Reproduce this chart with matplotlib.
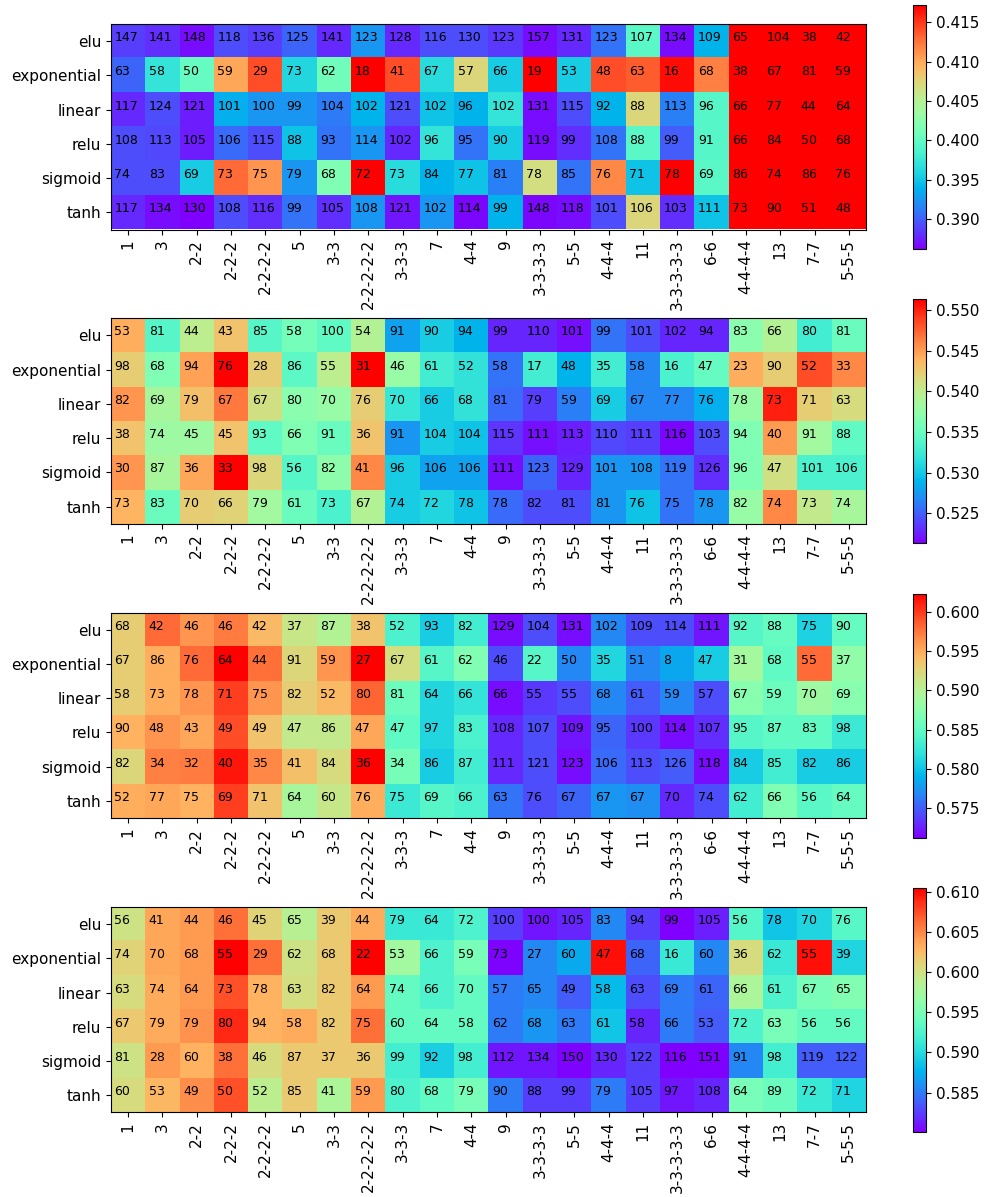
import numpy as np
import matplotlib
matplotlib.use("Agg")
import matplotlib.pyplot as plt

# 軸ラベル
activations = ["elu", "exponential", "linear", "relu", "sigmoid", "tanh"]
layers = ["1", "3", "2-2", "2-2-2", "2-2-2-2", "5", "3-3", "2-2-2-2-2", "3-3-3", "7",
          "4-4", "9", "3-3-3-3", "5-5", "4-4-4", "11", "3-3-3-3-3", "6-6", "4-4-4-4",
          "13", "7-7", "5-5-5"]

# 色の値 (スコア)
score1 = [
    [0.3887, 0.3881, 0.3868, 0.3893, 0.3887, 0.3902, 0.3878, 0.3924, 0.3878, 0.3893, 0.3893, 0.3884, 0.3868, 0.3878, 0.3909, 0.3995, 0.3868, 0.3940, 0.4172, 0.4172, 0.4172, 0.4172],
    [0.3902, 0.3971, 0.4002, 0.4101, 0.4141, 0.3961, 0.4008, 0.4172, 0.4141, 0.3964, 0.4073, 0.3955, 0.4172, 0.3955, 0.4141, 0.4135, 0.4166, 0.4119, 0.4172, 0.4172, 0.4172, 0.4172],
    [0.3878, 0.3893, 0.3874, 0.3936, 0.3924, 0.3924, 0.3912, 0.3940, 0.3893, 0.3949, 0.3940, 0.3971, 0.3868, 0.3893, 0.3940, 0.4073, 0.3915, 0.3992, 0.4172, 0.4172, 0.4172, 0.4172],
    [0.3893, 0.3890, 0.3874, 0.3905, 0.3893, 0.3949, 0.3909, 0.3924, 0.3878, 0.3971, 0.3909, 0.3955, 0.3868, 0.3881, 0.3909, 0.3995, 0.3899, 0.3992, 0.4172, 0.4172, 0.4172, 0.4172],
    [0.3893, 0.3893, 0.3955, 0.4129, 0.4110, 0.3924, 0.4017, 0.4172, 0.3964, 0.3940, 0.3949, 0.3915, 0.4067, 0.3909, 0.4116, 0.3949, 0.4172, 0.3995, 0.4172, 0.4172, 0.4172, 0.4172],
    [0.3878, 0.3868, 0.3862, 0.3893, 0.3881, 0.3909, 0.3881, 0.3924, 0.3871, 0.3924, 0.3865, 0.3940, 0.3865, 0.3868, 0.3893, 0.4073, 0.3881, 0.3949, 0.4172, 0.4172, 0.4172, 0.4172],
]
score2 = [
    [0.5441, 0.5339, 0.5399, 0.5429, 0.5339, 0.5357, 0.5345, 0.5393, 0.5279, 0.5303, 0.5288, 0.5228, 0.5228, 0.5219, 0.5258, 0.5243, 0.5228, 0.5228, 0.5369, 0.5393, 0.5327, 0.5351],
    [0.5423, 0.5363, 0.5447, 0.5513, 0.5423, 0.5342, 0.5399, 0.5513, 0.5378, 0.5327, 0.5318, 0.5258, 0.5327, 0.5288, 0.5327, 0.5267, 0.5333, 0.5348, 0.5441, 0.5423, 0.5483, 0.5459],
    [0.5453, 0.5387, 0.5432, 0.5465, 0.5411, 0.5369, 0.5378, 0.5423, 0.5321, 0.5303, 0.5318, 0.5255, 0.5237, 0.5264, 0.5303, 0.5267, 0.5267, 0.5285, 0.5378, 0.5501, 0.5423, 0.5414],
    [0.5429, 0.5381, 0.5381, 0.5429, 0.5345, 0.5363, 0.5351, 0.5429, 0.5273, 0.5303, 0.5297, 0.5234, 0.5219, 0.5225, 0.5240, 0.5237, 0.5216, 0.5243, 0.5363, 0.5450, 0.5384, 0.5345],
    [0.5453, 0.5387, 0.5444, 0.5513, 0.5417, 0.5339, 0.5372, 0.5459, 0.5303, 0.5279, 0.5279, 0.5219, 0.5252, 0.5228, 0.5273, 0.5273, 0.5258, 0.5231, 0.5363, 0.5411, 0.5333, 0.5333],
    [0.5438, 0.5351, 0.5423, 0.5420, 0.5384, 0.5351, 0.5333, 0.5393, 0.5303, 0.5309, 0.5297, 0.5255, 0.5243, 0.5243, 0.5273, 0.5297, 0.5258, 0.5273, 0.5378, 0.5459, 0.5402, 0.5387],
]
score3 = [
    [0.5930, 0.5980, 0.5961, 0.5973, 0.5942, 0.5911, 0.5899, 0.5936, 0.5837, 0.5806, 0.5831, 0.5719, 0.5744, 0.5719, 0.5769, 0.5744, 0.5744, 0.5722, 0.5843, 0.5853, 0.5809, 0.5853],
    [0.5930, 0.5949, 0.5980, 0.6023, 0.5977, 0.5924, 0.5961, 0.6023, 0.5918, 0.5843, 0.5868, 0.5744, 0.5843, 0.5769, 0.5812, 0.5769, 0.5784, 0.5806, 0.5890, 0.5849, 0.5980, 0.5880],
    [0.5930, 0.5949, 0.5961, 0.5998, 0.5961, 0.5930, 0.5942, 0.5983, 0.5856, 0.5812, 0.5822, 0.5719, 0.5735, 0.5744, 0.5769, 0.5750, 0.5769, 0.5744, 0.5874, 0.5856, 0.5887, 0.5874],
    [0.5946, 0.5961, 0.5952, 0.5992, 0.5936, 0.5908, 0.5908, 0.5952, 0.5849, 0.5812, 0.5837, 0.5729, 0.5744, 0.5722, 0.5753, 0.5735, 0.5719, 0.5732, 0.5843, 0.5849, 0.5849, 0.5828],
    [0.5924, 0.5970, 0.5973, 0.6014, 0.5967, 0.5939, 0.5921, 0.6023, 0.5862, 0.5806, 0.5831, 0.5729, 0.5744, 0.5719, 0.5756, 0.5744, 0.5750, 0.5719, 0.5806, 0.5831, 0.5806, 0.5806],
    [0.5949, 0.5952, 0.5946, 0.5998, 0.5936, 0.5893, 0.5911, 0.5949, 0.5828, 0.5843, 0.5837, 0.5760, 0.5744, 0.5753, 0.5775, 0.5772, 0.5729, 0.5744, 0.5831, 0.5868, 0.5846, 0.5853],
]
score4 = [
    [0.5999, 0.6036, 0.6042, 0.6061, 0.6011, 0.5986, 0.6017, 0.6033, 0.5912, 0.5912, 0.5924, 0.5825, 0.5810, 0.5816, 0.5856, 0.5825, 0.5802, 0.5813, 0.5927, 0.5887, 0.5896, 0.5930],
    [0.6011, 0.6036, 0.6042, 0.6104, 0.6061, 0.5999, 0.6017, 0.6104, 0.5974, 0.5924, 0.5949, 0.5803, 0.5856, 0.5872, 0.6098, 0.5841, 0.5912, 0.5856, 0.6005, 0.5912, 0.6098, 0.5896],
    [0.6005, 0.6033, 0.6042, 0.6073, 0.6030, 0.6002, 0.6017, 0.6042, 0.5937, 0.5924, 0.5937, 0.5850, 0.5856, 0.5837, 0.5881, 0.5831, 0.5850, 0.5841, 0.5980, 0.5924, 0.5949, 0.5955],
    [0.6017, 0.6033, 0.6045, 0.6089, 0.6030, 0.6033, 0.6017, 0.6061, 0.5937, 0.5937, 0.5937, 0.5850, 0.5862, 0.5850, 0.5887, 0.5816, 0.5850, 0.5837, 0.5924, 0.5949, 0.5937, 0.5937],
    [0.5999, 0.6042, 0.6030, 0.6061, 0.6005, 0.6017, 0.6017, 0.6017, 0.5918, 0.5893, 0.5918, 0.5810, 0.5810, 0.5803, 0.5816, 0.5825, 0.5801, 0.5801, 0.5856, 0.5918, 0.5837, 0.5837],
    [0.6005, 0.6027, 0.6048, 0.6073, 0.5989, 0.6017, 0.5980, 0.6042, 0.5924, 0.5934, 0.5949, 0.5850, 0.5825, 0.5825, 0.5850, 0.5825, 0.5810, 0.5816, 0.5949, 0.5940, 0.5912, 0.5896],
]

# セル内の数字
count1 = [
    [147, 141, 148, 118, 136, 125, 141, 123, 128, 116, 130, 123, 157, 131, 123, 107, 134, 109, 65, 104, 38, 42],
    [63, 58, 50, 59, 29, 73, 62, 18, 41, 67, 57, 66, 19, 53, 48, 63, 16, 68, 38, 67, 81, 59],
    [117, 124, 121, 101, 100, 99, 104, 102, 121, 102, 96, 102, 131, 115, 92, 88, 113, 96, 66, 77, 44, 64],
    [108, 113, 105, 106, 115, 88, 93, 114, 102, 96, 95, 90, 119, 99, 108, 88, 99, 91, 66, 84, 50, 68],
    [74, 83, 69, 73, 75, 79, 68, 72, 73, 84, 77, 81, 78, 85, 76, 71, 78, 69, 86, 74, 86, 76],
    [117, 134, 130, 108, 116, 99, 105, 108, 121, 102, 114, 99, 148, 118, 101, 106, 103, 111, 73, 90, 51, 48],
]
count2 = [
    [53, 81, 44, 43, 85, 58, 100, 54, 91, 90, 94, 99, 110, 101, 99, 101, 102, 94, 83, 66, 80, 81],
    [98, 68, 94, 76, 28, 86, 55, 31, 46, 61, 52, 58, 17, 48, 35, 58, 16, 47, 23, 90, 52, 33],
    [82, 69, 79, 67, 67, 80, 70, 76, 70, 66, 68, 81, 79, 59, 69, 67, 77, 76, 78, 73, 71, 63],
    [38, 74, 45, 45, 93, 66, 91, 36, 91, 104, 104, 115, 111, 113, 110, 111, 116, 103, 94, 40, 91, 88],
    [30, 87, 36, 33, 98, 56, 82, 41, 96, 106, 106, 111, 123, 129, 101, 108, 119, 126, 96, 47, 101, 106],
    [73, 83, 70, 66, 79, 61, 73, 67, 74, 72, 78, 78, 82, 81, 81, 76, 75, 78, 82, 74, 73, 74],
]
count3 = [
    [68, 42, 46, 46, 42, 37, 87, 38, 52, 93, 82, 129, 104, 131, 102, 109, 114, 111, 92, 88, 75, 90],
    [67, 86, 76, 64, 44, 91, 59, 27, 67, 61, 62, 46, 22, 50, 35, 51, 8, 47, 31, 68, 55, 37],
    [58, 73, 78, 71, 75, 82, 52, 80, 81, 64, 66, 66, 55, 55, 68, 61, 59, 57, 67, 59, 70, 69],
    [90, 48, 43, 49, 49, 47, 86, 47, 47, 97, 83, 108, 107, 109, 95, 100, 114, 107, 95, 87, 83, 98],
    [82, 34, 32, 40, 35, 41, 84, 36, 34, 86, 87, 111, 121, 123, 106, 113, 126, 118, 84, 85, 82, 86],
    [52, 77, 75, 69, 71, 64, 60, 76, 75, 69, 66, 63, 76, 67, 67, 67, 70, 74, 62, 66, 56, 64],
]
count4 = [
    [56, 41, 44, 46, 45, 65, 39, 44, 79, 64, 72, 100, 100, 105, 83, 94, 99, 105, 56, 78, 70, 76],
    [74, 70, 68, 55, 29, 62, 68, 22, 53, 66, 59, 73, 27, 60, 47, 68, 16, 60, 36, 62, 55, 39],
    [63, 74, 64, 73, 78, 63, 82, 64, 74, 66, 70, 57, 65, 49, 58, 63, 69, 61, 66, 61, 67, 65],
    [67, 79, 79, 80, 94, 58, 82, 75, 60, 64, 58, 62, 68, 63, 61, 58, 66, 53, 72, 63, 56, 56],
    [81, 28, 60, 38, 46, 87, 37, 36, 99, 92, 98, 112, 134, 150, 130, 122, 116, 151, 91, 98, 119, 122],
    [60, 53, 49, 50, 52, 85, 41, 59, 80, 68, 79, 90, 88, 99, 79, 105, 97, 108, 64, 89, 72, 71],
]

# カラーバーの範囲
ranges = [(0.3862, 0.4172), (0.5213, 0.5513), (0.5713, 0.6023), (0.5801, 0.6105)]

scores = [score1, score2, score3, score4]
counts = [count1, count2, count3, count4]

W, H = 985, 1197
fig = plt.figure(figsize=(W / 100, H / 100), dpi=100)
plt.rcParams["font.size"] = 11

for k in range(4):
    top = 24 + 294.3 * k
    ax = fig.add_axes([111 / W, 1 - (top + 205.5) / H, 755 / W, 205.5 / H])
    ctop = 5 + 294.3 * k
    cax = fig.add_axes([913 / W, 1 - (ctop + 244) / H, 13 / W, 244 / H])

    data = np.array(scores[k])
    vmin, vmax = ranges[k]
    im = ax.imshow(data, cmap="rainbow", vmin=vmin, vmax=vmax, aspect="auto")

    # 数字を書き込む
    for i in range(len(activations)):
        for j in range(len(layers)):
            ax.text(j - 0.4, i, str(counts[k][i][j]), fontsize=9)

    ax.set_xticks(range(len(layers)))
    ax.set_xticklabels(layers, rotation=90, fontsize=11)
    ax.set_yticks(range(len(activations)))
    ax.set_yticklabels(activations, fontsize=11)

    cb = fig.colorbar(im, cax=cax)
    cb.ax.tick_params(labelsize=11)
    cb.ax.yaxis.set_major_formatter(matplotlib.ticker.FormatStrFormatter("%.3f"))

fig.savefig("out.png", dpi=100)
